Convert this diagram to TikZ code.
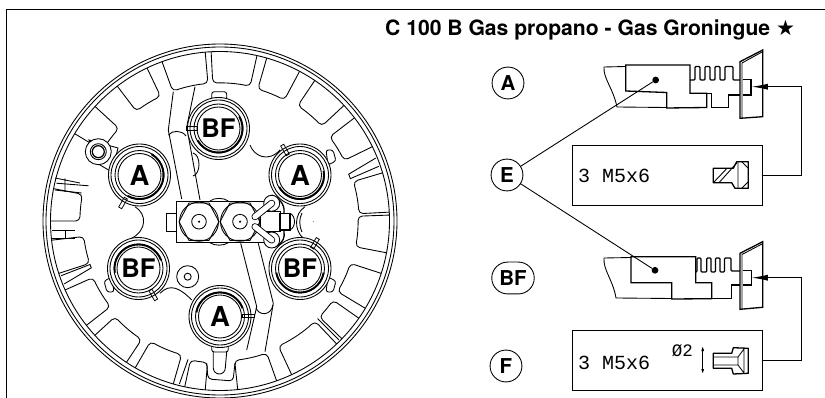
\documentclass[tikz,border=0pt]{standalone}
\usepackage{fontspec}
\setmainfont{TeX Gyre Heros}
\newfontfamily\isofont{Liberation Mono}
\newfontfamily\starfont{DejaVu Sans}
\usetikzlibrary{arrows.meta}
\tikzset{
  thin line/.style={draw=black,line width=0.7pt,line join=miter,line cap=butt},
  heavy line/.style={draw=black,line width=1.05pt,line join=miter,line cap=butt},
  pocket line/.style={draw=black,line width=0.7pt,rounded corners=3.5pt},
  burner/.style={draw=black,fill=white,line width=0.7pt},
  burner label/.style={font=\fontsize{22}{22}\selectfont\bfseries},
  burner label two/.style={font=\fontsize{20.5}{20.5}\selectfont\bfseries},
  call label/.style={draw=black,line width=0.7pt,circle,minimum size=25.5pt,font=\fontsize{16.4}{16.4}\selectfont\bfseries},
  clip mark/.style={draw=black,line width=0.6pt,minimum width=9pt,minimum height=2.8pt},
  part box/.style={draw=black,line width=0.7pt,minimum width=152.3pt,minimum height=48pt},
  iso text/.style={font=\fontsize{16}{16}\selectfont\isofont,anchor=west},
  dot mark/.style={circle,fill=black,minimum size=5.4pt},
}
\begin{document}
\begin{tikzpicture}[y=0.80pt, x=0.8pt,yscale=-1, inner sep=0pt, outer sep=0pt]
\useasboundingbox (0,0) rectangle (825,398);
% frame and title
\path[draw=black,line width=1.0pt] (6.7,398) -- (6.7,9.3) -- (825,9.3);
\node[anchor=base east,font=\fontsize{16.9}{16.9}\selectfont\bfseries] (textTitle) at (795,35.5)
  {C 100 B Gas propano - Gas Groningue {\starfont\mdseries ★}};

% outer rings
\path[thin line] (220,221) circle (177);
\path[thin line] (220,221) circle (174);
\path[thin line] (220,221) circle (169.5);

% pockets round the rim
\begin{scope}[shift={(220,221)}]
\path[pocket line] (267:169.5) -- (267:138) arc (267:282.6:138) -- (282.6:169.5);
\path[pocket line] (286:169.5) -- (286:137) arc (286:298:137) -- (298:169.5);
\path[pocket line] (304:169.5) -- (304:139) arc (304:317:139) -- (317:169.5);
\path[pocket line] (322.5:169.5) -- (322.5:138) arc (322.5:334:138) -- (334:169.5);
\path[pocket line] (343.5:169.5) -- (343.5:139) arc (343.5:357:139) -- (357:169.5);
\path[pocket line] (358:169.5) -- (358:138) arc (358:370.8:138) -- (370.8:169.5);
\path[pocket line] (18:169.5) -- (18:137) arc (18:31:137) -- (31:169.5);
\path[pocket line] (35:169.5) -- (35:138) arc (35:44:138) -- (44:169.5);
\path[pocket line] (46.5:169.5) -- (46.5:138) arc (46.5:65:138) -- (65:169.5);
\path[pocket line] (70.5:169.5) -- (70.5:140) arc (70.5:84:140) -- (84:169.5);
\path[pocket line] (95:169.5) -- (95:142) arc (95:102:142) -- (102:169.5);
\path[pocket line] (106:169.5) -- (106:139) arc (106:120:139) -- (120:169.5);
\path[pocket line] (123.5:169.5) -- (123.5:142) arc (123.5:137.6:142) -- (137.6:169.5);
\path[pocket line] (142:169.5) -- (142:139) arc (142:156:139) -- (156:169.5);
\path[pocket line] (162:169.5) -- (162:137) arc (162:173.5:137) -- (173.5:169.5);
\path[pocket line] (180:169.5) -- (180:140) arc (180:191:140) -- (191:169.5);
\path[pocket line] (211:169.5) -- (211:137) arc (211:222.5:137) -- (222.5:169.5);
\path[pocket line] (232.7:169.5) -- (232.7:138) arc (232.7:244.5:138) -- (244.5:169.5);
\path[pocket line] (250:169.5) -- (250:138) arc (250:265:138) -- (265:169.5);
% doubled ribs
\path[thin line] (338:168) -- (340:137) -- (342:137) -- (341:168);
\path[thin line] (158:168) -- (160:137) -- (161.5:137) -- (161:168);
\path[thin line] (45:168) -- (45:138);
\path[thin line] (193:168) -- (195:136);
\path[thin line] (104:168) -- (103:142);
\end{scope}
% steps in the left pockets
\path[thin line] (55,178) -- (80,183) (55,190) -- (81.7,193) (65,178.3) -- (65,192);
\path[thin line] (51.7,230) -- (75,230) (51.7,238) -- (75,238) (65,230) -- (65,238);

% channels across the plate
\path[thin line] (173.3,91.7) -- (168.3,130) -- (181.7,199);
\path[thin line] (195,86.7) -- (186.7,127) -- (200,200);
\path[thin line] (168.5,135) .. controls (172,130) and (182,130) .. (186,136);
\path[thin line] (193,153) .. controls (201,155) and (201,174) .. (193,176);
\path[thin line] (240.7,243.3) -- (256.7,306.7) -- (246.7,350);
\path[thin line] (258.3,243.3) -- (273.3,303.3) -- (265,351.7);
\path[thin line] (256,308) .. controls (259,316) and (271,316) .. (273,305);
% body outline between the burners
\path[thin line] (250,145) .. controls (254,156) and (268,163) .. (280,150);
\path[thin line] (135,206.7) .. controls (147,214) and (147,230) .. (131.7,238.3);
\path[thin line] (305,206.7) .. controls (294,214) and (294,230) .. (303.3,238.3);
\path[thin line] (302,213) .. controls (299,219) and (299,225) .. (302,232);
\path[thin line] (160,293.3) .. controls (170,283) and (180,288) .. (191.7,300);
% rear tabs
\path[burner,rounded corners=2pt] (211.7,91.7) rectangle (226.7,100);
\path[burner,rounded corners=2pt] (326,150) -- (333,150) -- (336,161) -- (328,165) -- cycle;
\path[burner,rounded corners=2pt] (326,292) -- (333,292) -- (336,281) -- (328,277) -- cycle;
\path[burner,rounded corners=2pt] (114,292) -- (107,292) -- (104,281) -- (112,277) -- cycle;
\path[burner,rounded corners=2pt] (211.7,344) rectangle (228.3,352);
\path[thin line] (213.3,352) -- (213.3,368) arc (180:0:6) -- (226.7,352);
\path[thin line,rounded corners=3pt] (206.7,363) -- (208,379) -- (233,381) -- (235,363);
% mounting eye and small boss
\path[burner] (89,140) -- (118,148) -- (112,172) -- (100,165) -- cycle;
\path[burner] (98.3,151.7) circle (13);
\path[burner] (98.3,151.7) circle (8);
\path[burner,line width=1.0pt] (98.3,151.7) circle (6);
\path[burner] (187.7,276.7) circle (11);
\path[burner] (187.7,276.7) circle (3.5);

% burners
\path[burner] (139.5,175) circle (31);
\path[burner] (139.5,175) circle (28.5);
\path[burner] (139.5,175) circle (24.5);
\path[burner] (139.5,175) circle (21.5);
\path[draw=black,line width=1.5pt] ([shift={(-60:24)}]139.5,175) arc (-60:120:24);
\path[burner] (300,175) circle (31);
\path[burner] (300,175) circle (28.5);
\path[burner] (300,175) circle (24.5);
\path[burner] (300,175) circle (21.5);
\path[draw=black,line width=1.5pt] ([shift={(-10:24)}]300,175) arc (-10:150:24);
\path[burner] (218.5,128.5) circle (31);
\path[burner] (218.5,128.5) circle (28.5);
\path[burner] (218.5,128.5) circle (24.5);
\path[burner] (218.5,128.5) circle (21.5);
\path[draw=black,line width=1.5pt] ([shift={(-30:24)}]218.5,128.5) arc (-30:150:24);
\path[burner] (138.5,268.5) circle (31);
\path[burner] (138.5,268.5) circle (28.5);
\path[burner] (138.5,268.5) circle (24.5);
\path[burner] (138.5,268.5) circle (21.5);
\path[draw=black,line width=1.5pt] ([shift={(170:24)}]138.5,268.5) arc (170:340:24);
\path[burner] (300,268.5) circle (31);
\path[burner] (300,268.5) circle (28.5);
\path[burner] (300,268.5) circle (24.5);
\path[burner] (300,268.5) circle (21.5);
\path[draw=black,line width=1.5pt] ([shift={(10:24)}]300,268.5) arc (10:170:24);
\path[burner] (220,316.5) circle (31);
\path[burner] (220,316.5) circle (28.5);
\path[burner] (220,316.5) circle (24.5);
\path[burner] (220,316.5) circle (21.5);
\path[draw=black,line width=1.5pt] ([shift={(190:24)}]220,316.5) arc (190:340:24);
\node[burner label] (textA1) at (139.5,175) {A};
\node[burner label] (textA2) at (300,175) {A};
\node[burner label two] (textBF1) at (218.5,128.5) {BF};
\node[burner label two] (textBF2) at (138.5,268.5) {BF};
\node[burner label two] (textBF3) at (300,268.5) {BF};
\node[burner label] (textA3) at (220,316.5) {A};
\node[clip mark,rotate=60] (clipA1) at (123,203) {};
\node[clip mark,rotate=-60] (clipA2) at (285,150) {};
\node[clip mark] (clipBF1) at (191.7,128.3) {};
\node[clip mark,rotate=-60] (clipBF2) at (153.3,295) {};
\node[clip mark,rotate=60] (clipBF3) at (315,243.3) {};
\node[clip mark] (clipA3) at (248.3,316) {};

% central block
\path[burner] (166.7,213.3) rectangle (176,231);
\path[thin line] (210,201) .. controls (214,197.5) and (224,197.5) .. (228.3,201);
\path[thin line] (210,242.7) .. controls (214,246) and (224,246) .. (228.3,242.7);
\path[burner] (176,201) rectangle (265,242.7);
\path[burner] (189,203) -- (209,203) -- (219,221.7) -- (209,240.4) -- (189,240.4) -- (179,221.7) -- cycle;
\path[thin line] (199,221.7) circle (19.5);
\path[burner] (199,221.7) circle (7.3);
\path[fill=black] (199,221.7) circle (1.2);
\path[burner] (230,203) -- (250,203) -- (260,221.7) -- (250,240.4) -- (230,240.4) -- (220,221.7) -- cycle;
\path[thin line] (240,221.7) circle (19.5);
\path[burner] (240,221.7) circle (7.3);
\path[fill=black] (240,221.7) circle (1.2);
\path[burner] (260,211.7) rectangle (280,231.7);
\path[burner,line width=1.1pt] (280,213.3) rectangle (290,230);
\path[thin line] (290,213.3) .. controls (296,216) and (296,227) .. (290,230);
\path[heavy line] (271.7,195) .. controls (283,200) and (285,208) .. (284,214);
\path[heavy line] (284,231) .. controls (285,238) and (283,242) .. (277,246);
\path[burner] (271.7,203.3) circle (8);
\path[burner] (271.7,240) circle (8);
\path[draw=black,line width=0.7pt,double=white,double distance=4.2pt,line cap=round] (255,216.7) -- (271.7,203.3);
\path[draw=black,line width=0.7pt,double=white,double distance=4.2pt,line cap=round] (255,226.7) -- (271.7,240);
\path[fill=black] (313.3,221.7) circle (0.4);

% call-out labels
\node[call label] (circleA) at (508,83) {A};
\node[call label] (circleE) at (507,175) {E};
\node[call label,rounded corners=12.8pt,rectangle,minimum width=34pt] (circleBF) at (513,278) {BF};
\node[call label] (circleF) at (506,366) {F};

% part A
\path[heavy line] (625.7,65) -- (690,65) -- (690,93.3) -- (706.7,93.3) -- (706.7,107.5)
  -- (666.7,108) -- (666.7,92.5) -- (625.7,91) -- cycle;
\path[thin line] (625.7,66.5) -- (604,67) .. controls (603,78) and (613,88) .. (617,107) -- (666.7,107.5);
\path[heavy line,rounded corners=0.8pt] (690,80) -- (695,80) -- (695,66.5) -- (700,66.5) -- (700,80)
  -- (705,80) -- (705,66.5) -- (710,66.5) -- (710,80) -- (715,80) -- (715,66.5) -- (720,66.5)
  -- (720,80) -- (725,80) -- (725,66.5) -- (733,66.5) -- (733,80) -- (740,80);
\path[heavy line] (706.7,93.3) -- (711.7,93.3) -- (711.7,107.3) -- (728.3,107.3) -- (728.3,95) -- (740,95);
\path[heavy line] (740,61.7) -- (762.7,50) -- (762.7,116.7) -- (740,118.3) -- cycle;
\path[thin line] (742,118) -- (742,63) -- (762,52);
\path[heavy line] (742.5,79.5) -- (751,79.5) -- (751,95) -- (742.5,95);
\node[dot mark] (dotA) at (655.7,80) {};
\node[part box] (boxA) at (667.5,175) {};
\node[iso text] (textBoxA) at (578,176) {3 M5x6};
\path[heavy line,line join=round] (713.3,168.3) -- (733.3,168.3) -- (736.7,161.7) -- (748.3,161.7) -- (748.3,188.3)
  -- (735,188.3) -- (731.7,182.7) -- (713.3,182.7) -- cycle;
\path[thin line] (713.3,182.7) -- (727,168.3) (719,182.7) -- (736.7,163) (738,161.7) -- (738,188)
  (742,162) -- (748,168) (742,188) -- (748,182);

% part BF
\path[heavy line] (631,256.7) -- (695.7,256.7) -- (695.7,282.7) -- (711.7,282.7) -- (711.7,298.7)
  -- (671.7,299) -- (671.7,282.7) -- (631,282.7) -- cycle;
\path[thin line] (631,257.5) -- (604,258) .. controls (603,270) and (613,280) .. (616,298) -- (671.7,298.5);
\path[heavy line,rounded corners=0.8pt] (695.7,272) -- (697,272) -- (697,258) -- (701,258) -- (701,272)
  -- (706.7,272) -- (706.7,258) -- (711,258) -- (711,272) -- (715.5,272) -- (715.5,258) -- (720,258)
  -- (720,272) -- (724.5,272) -- (724.5,258) -- (731,258) -- (731,271) -- (740,271);
\path[heavy line] (711.7,298.5) -- (731.7,298.5) -- (731.7,285) -- (740,285);
\path[heavy line] (740,253.3) -- (762.7,241.7) -- (762.7,307.3) -- (740,309.3) -- cycle;
\path[thin line] (742,309) -- (742,254.5) -- (762,244);
\path[heavy line] (742.5,270.7) -- (751.7,270.7) -- (751.7,285) -- (742.5,285);
\node[dot mark] (dotBF) at (655,270.3) {};
\node[part box] (boxBF) at (667.5,360.8) {};
\node[iso text] (textBoxBF) at (578,363) {3 M5x6};
\node[font=\fontsize{14}{14}\selectfont\isofont] (textPhi) at (682.3,350.7) {Ø2};
\path[heavy line,line join=round] (713.3,353.3) -- (731.7,353.3) -- (733.3,347.7) -- (748.3,348.3) -- (748.3,373.3)
  -- (733.3,374) -- (731.7,368.3) -- (713.3,368.3) -- cycle;
\path[thin line] (713.3,357) -- (738,357) -- (738,365) -- (713.3,365) (738,357) -- (744,349) (738,365) -- (744,373)
  (744,349) -- (744,373);
\path[thin line,{Latex[length=4pt,width=2.4pt]}-{Latex[length=4pt,width=2.4pt]}] (702.7,346) -- (702.7,374);

% leaders and feed lines
\path[thin line] (circleE) -- (dotA);
\path[thin line] (circleE) -- (dotBF);
\coordinate (cornerA) at (801.7,86.7);
\coordinate (tipA) at (751.7,86.7);
\coordinate (cornerBF) at (801.7,277.7);
\coordinate (tipBF) at (751.7,277.7);
\path[thin line,-{Latex[length=13pt,width=4.8pt]}] (boxA.east) -| (cornerA) -- (tipA);
\path[thin line,-{Latex[length=13pt,width=4.8pt]}] (boxBF.east) -| (cornerBF) -- (tipBF);

\end{tikzpicture}
\end{document}
